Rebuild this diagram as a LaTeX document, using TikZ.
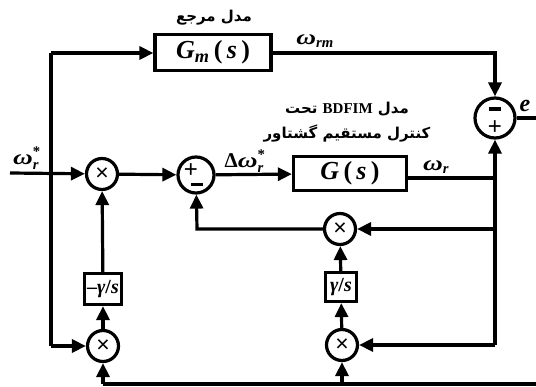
\documentclass[tikz,border=0pt]{standalone}
\usepackage{amsmath}
\usepackage{graphicx}
\usepackage{fontspec}
\setmainfont{Liberation Serif}
\newfontfamily\fafont[Script=Arabic]{DejaVu Sans}
\newfontfamily\sansf{Liberation Sans}
\TeXXeTstate=1
\usetikzlibrary{arrows.meta}
\newcommand{\omg}{\scalebox{1.3}[1]{\textbf{\textit{ω}}}}
\tikzset{
  ln/.style={line width=3.2pt, line join=miter},
  arr/.style={line width=3.2pt, -{Triangle[length=14pt,width=13pt]}},
  blk/.style={draw, line width=3.2pt, inner sep=0pt, font=\fontsize{26}{28}\selectfont\bfseries},
  smallblk/.style={draw, line width=3.2pt, inner sep=0pt, font=\fontsize{20}{22}\selectfont\bfseries},
  mul/.style={draw, circle, line width=3.2pt, minimum size=31pt, inner sep=0pt, font=\fontsize{23}{23}\selectfont\sansf},
  sumc/.style={draw, circle, line width=3.2pt, inner sep=0pt},
  lbl/.style={inner sep=0pt, font=\fontsize{21}{22}\selectfont\bfseries},
  fa/.style={inner sep=0pt, font=\fontsize{15}{17}\selectfont\fafont\bfseries},
  sgn/.style={inner sep=0pt, font=\fontsize{24}{24}\selectfont\sansf},
}
\begin{document}
\begin{tikzpicture}[x=1pt,y=-1pt]
\useasboundingbox (0,0) rectangle (536,387);
% blocks
\node[blk, minimum width=116pt, minimum height=36pt] (Gm) at (213,52.5) {\textit{G}$_{\text{\itshape m}}$\,(\,\textit{s}\,)};
\node[blk, minimum width=113pt, minimum height=34pt] (G) at (350,173.5) {\textit{G}\,(\,\textit{s}\,)};
\node[smallblk, minimum width=37pt, minimum height=31pt] (g1) at (103,289) {\textendash\textit{γ}/\textit{s}};
\node[smallblk, minimum width=31pt, minimum height=29pt] (g2) at (341,287) {\textit{γ}/\textit{s}};
% multipliers
\node[mul] (m1) at (102,174) {×};
\node[mul] (m2) at (103,346) {×};
\node[mul] (m3) at (340,229) {×};
\node[mul] (m4) at (342,345) {×};
% summing junctions
\node[sumc, minimum size=36pt] (s1) at (196,175) {};
\node[sgn] (p1) at (191,171) {+};
\node[sgn] (n1) at (197,184.5) {\rule{12pt}{3.4pt}};
\node[sgn] (s2) at (495,118) [sumc, minimum size=40pt] {};
\node[sgn] (n2) at (495,109) {\rule{12pt}{3.4pt}};
\node[sgn] (p2) at (495,128) {+};
% coordinates
\coordinate (in) at (10,173);
\coordinate (tl) at (51,53);
\coordinate (bl) at (51,346);
\coordinate (tr) at (495,53);
\coordinate (rb) at (495,345);
\coordinate (r3) at (495,229);
\coordinate (rg) at (495,178);
\coordinate (fb) at (197,229);
\coordinate (eo) at (536,118);
\coordinate (bo) at (536,384);
\coordinate (b1) at (103,384);
\coordinate (b2) at (342,384);
% connectors
\draw[arr] (in) -- (m1);
\draw[ln] (tl) -- (bl);
\draw[arr] (tl) -- (Gm.west |- tl);
\draw[arr] (bl) -- (m2);
\draw[arr] (m1) -- (s1);
\draw[arr] (s1) -- (G);
\draw[arr] (Gm.east |- tl) -- (tr) -- (s2);
\draw[ln] (G.east |- rg) -- (rg);
\draw[arr] (rb) -- (s2);
\draw[ln] (s2.east) -- (eo);
\draw[arr] (r3) -- (m3);
\draw[arr] (m3) -- (fb) -- (s1);
\draw[arr] (rb) -- (m4);
\draw[ln] (bo) -- (b1);
\draw[arr] (b1) -- (m2);
\draw[arr] (b2) -- (m4);
\draw[arr] (m2) -- (g1);
\draw[arr] (g1) -- (m1);
\draw[arr] (m4) -- (g2);
\draw[arr] (g2) -- (m3);
% labels
\node[fa] (t1) at (214,18) {\beginR مدل مرجع\endR};
\node[fa] (t2) at (347,109) {\beginR مدل \beginL{\rmfamily BDFIM}\endL{} تحت\endR};
\node[fa] (t3) at (347,134) {\beginR کنترل مستقیم گشتاور\endR};
\node[lbl] (l1) at (27,158) {$\text{\omg}^{\text{*}}_{\text{\itshape r}}$};
\node[lbl] (l2) at (315,41) {$\text{\omg}_{\text{\itshape rm}}$};
\node[lbl] (l3) at (245,161) {$\text{Δ\omg}^{\text{*}}_{\text{\itshape r}}$};
\node[lbl] (l4) at (436,167) {$\text{\omg}_{\text{\itshape r}}$};
\node[lbl, font=\fontsize{24}{24}\selectfont\bfseries] (l5) at (525,106) {\textit{e}};
\end{tikzpicture}
\end{document}
